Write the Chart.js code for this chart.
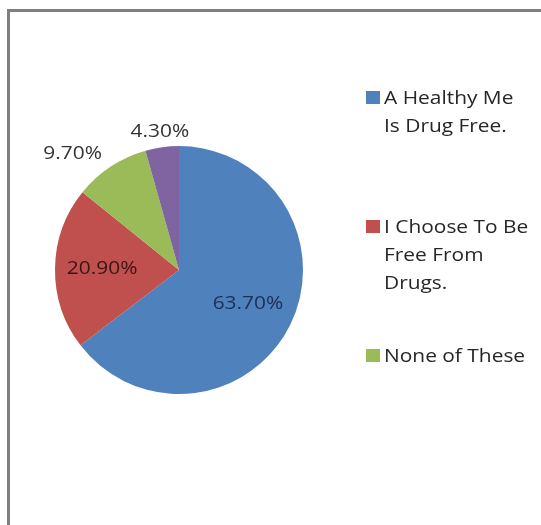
<!DOCTYPE html>
<html>
<head>
<meta charset="utf-8">
<script src="https://cdn.jsdelivr.net/npm/chart.js@4/dist/chart.umd.min.js"></script>
<style>
  body { margin: 0; background: #fff; overflow: hidden; }
  #frame {
    position: absolute; left: 7px; top: 9px;
    width: 560px; height: 560px;
    border: 3px solid #7f7f7f;
  }
  #chart { position: absolute; left: 0; top: 0; }
  .legend-item {
    position: absolute; left: 366px;
    font-family: "Open Sans", sans-serif; font-size: 19px;
    line-height: 28px; color: #262626;
  }
  .legend-item .box {
    position: absolute; left: 0; top: 8px; width: 14px; height: 13px;
  }
  .legend-item .text {
    margin-left: 18px; white-space: nowrap;
    transform: scaleX(1.1); transform-origin: left top;
  }
</style>
</head>
<body>
<div id="frame"></div>
<canvas id="chart" width="541" height="525"></canvas>
<div id="legend"></div>
<script>
const labels = ['A Healthy Me Is Drug Free.', 'I Choose To Be Free From Drugs.', 'None of These', 'Other'];
const legendLines = [['A Healthy Me', 'Is Drug Free.'], ['I Choose To Be', 'Free From', 'Drugs.'], ['None of These']];
const values = [63.7, 20.9, 9.7, 4.3];
const colors = ['#4f81bd', '#c0504d', '#9bbb59', '#8064a2'];
const labelColors = ['#1c2f57', '#3b1514', '#333333', '#333333'];
const insideLabel = [true, true, false, false];

// percent labels, inside the slice or just outside the rim
const sliceLabels = {
  id: 'sliceLabels',
  afterDatasetsDraw(chart) {
    const ctx = chart.ctx;
    const meta = chart.getDatasetMeta(0);
    meta.data.forEach((arc, i) => {
      const mid = (arc.startAngle + arc.endAngle) / 2;
      const r = arc.outerRadius;
      const cos = Math.cos(mid), sin = Math.sin(mid);
      const text = values[i].toFixed(2) + '%';
      const d = insideLabel[i] ? r * 0.62 : r + 16;
      ctx.save();
      ctx.font = '19px "Open Sans", sans-serif';
      ctx.fillStyle = labelColors[i];
      ctx.textBaseline = 'middle';
      if (insideLabel[i] || Math.abs(cos) < 0.3) ctx.textAlign = 'center';
      else ctx.textAlign = cos < 0 ? 'right' : 'left';
      ctx.translate(arc.x + cos * d, arc.y + sin * d);
      ctx.scale(1.1, 1);
      ctx.fillText(text, 0, 0);
      ctx.restore();
    });
  }
};

new Chart(document.getElementById('chart').getContext('2d'), {
  type: 'pie',
  data: {
    labels: labels,
    datasets: [{
      data: values,
      backgroundColor: colors,
      borderWidth: 0
    }]
  },
  options: {
    responsive: false,
    animation: false,
    layout: { padding: { left: 55, right: 238, top: 146, bottom: 131 } },
    plugins: {
      legend: { display: false },
      tooltip: { enabled: false }
    }
  },
  plugins: [sliceLabels]
});

// legend on the right, one entry per named answer
const legend = document.getElementById('legend');
legendLines.forEach((lines, i) => {
  const item = document.createElement('div');
  item.className = 'legend-item';
  item.style.top = (83 + i * 129) + 'px';
  item.innerHTML = '<div class="box" style="background:' + colors[i] + '"></div>' +
    '<div class="text">' + lines.join('<br>') + '</div>';
  legend.appendChild(item);
});
</script>
</body>
</html>
